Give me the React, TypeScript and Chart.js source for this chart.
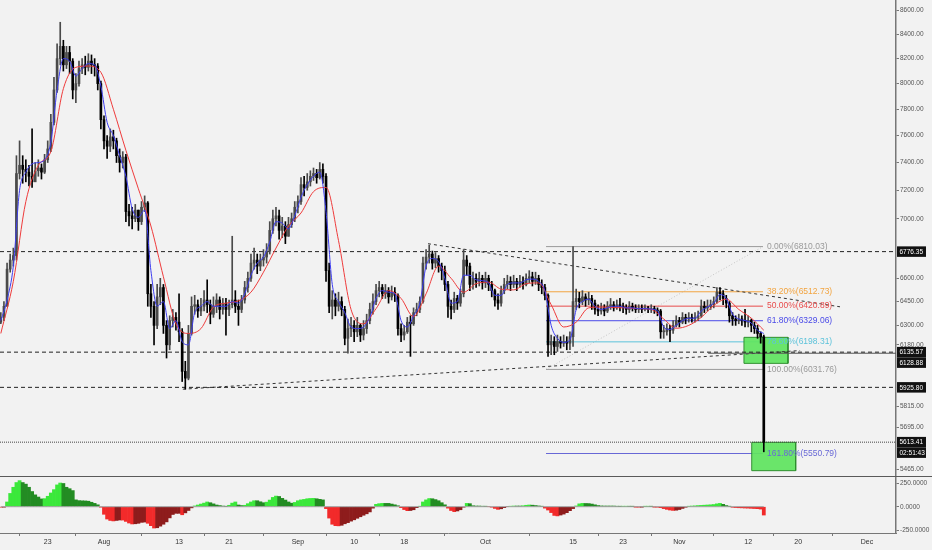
import React, { useEffect, useRef } from 'react';
import { Chart, registerables } from 'chart.js';

Chart.register(...registerables);

// ---------- time grid (days since 1 Jul 2018) ----------
const candleStartDay = 14.5; // 15 Jul 2018 12:00
const candleStepDays = 0.5; // 12h candles
const firstOpen = 6320;

const candleClose = [
  6350, 6420, 6660, 6720, 6750, 7320, 7380, 7350, 7330, 7300,
  7260, 7340, 7360, 7330, 7420, 7500, 7700, 7950, 8200, 8300,
  8150, 8250, 8180, 7950, 8000, 8120, 8150, 8130, 8180, 8150,
  8140, 8000, 7720, 7560, 7520, 7590, 7560, 7450, 7400, 7440,
  7050, 7020, 7000, 7060, 6980, 7080, 7110, 6500, 6420, 6300,
  6480, 6540, 6300, 6180, 6330, 6350, 6320, 6260, 6020, 5980,
  6250, 6420, 6430, 6390, 6420, 6460, 6430, 6370, 6420, 6460,
  6400, 6440, 6400, 6430, 6460, 6420, 6400, 6460, 6540, 6600,
  6700, 6720, 6680, 6720, 6740, 6780, 6920, 7000, 7020, 6920,
  6950, 6880, 6960, 7000, 7080, 7120, 7240, 7220, 7260, 7300,
  7320, 7290, 7350, 7300, 6650, 6420, 6460, 6420, 6450, 6400,
  6220, 6280, 6300, 6260, 6300, 6240, 6280, 6330, 6400, 6450,
  6520, 6540, 6500, 6520, 6480, 6510, 6490, 6280, 6240, 6260,
  6320, 6310, 6380, 6400, 6450, 6700, 6740, 6760, 6700, 6730,
  6680, 6650, 6560, 6420, 6400, 6470, 6440, 6500, 6720, 6680,
  6560, 6600, 6580, 6600, 6570, 6600, 6560, 6520, 6460, 6440,
  6520, 6560, 6580, 6560, 6580, 6560, 6580, 6560, 6600, 6610,
  6580, 6600, 6560, 6540, 6490, 6180, 6200, 6170, 6200, 6190,
  6200, 6190, 6230, 6450, 6470, 6450, 6480, 6460, 6470, 6440,
  6400, 6390, 6410, 6390, 6420, 6430, 6410, 6430, 6420, 6410,
  6400, 6420, 6410, 6400, 6410, 6400, 6410, 6400, 6405, 6395,
  6390, 6260, 6260, 6280, 6270, 6300, 6330, 6320, 6350, 6340,
  6350, 6340, 6350, 6360, 6420, 6410, 6420, 6430, 6450, 6510,
  6500, 6470, 6440, 6360, 6340, 6330, 6340, 6330, 6320, 6330,
  6300, 6280, 6250, 6230, 5613.41,
];

const candleHigh = [
  6380, 6450, 6700, 6760, 6800, 7450, 7560, 7450, 7420, 7380,
  7650, 7400, 7420, 7390, 7460, 7560, 7760, 8050, 8320, 8500,
  8350, 8300, 8300, 8200, 8080, 8180, 8200, 8220, 8240, 8230,
  8200, 8160, 8020, 7750, 7600, 7650, 7640, 7580, 7500, 7480,
  7460, 7100, 7080, 7100, 7060, 7120, 7160, 7120, 6560, 6450,
  6560, 6600, 6560, 6330, 6360, 6400, 6380, 6500, 6280, 6080,
  6300, 6480, 6490, 6460, 6470, 6520, 6590, 6460, 6480, 6500,
  6480, 6470, 6470, 6460, 6880, 6520, 6460, 6490, 6580, 6640,
  6760, 6800, 6760, 6760, 6790, 6830, 6980, 7060, 7080, 7060,
  7010, 6980, 7010, 7040, 7120, 7160, 7290, 7300, 7320, 7340,
  7360, 7350, 7400, 7390, 7320, 6700, 6520, 6500, 6510, 6480,
  6420, 6340, 6350, 6330, 6350, 6310, 6330, 6370, 6440, 6500,
  6560, 6580, 6560, 6560, 6540, 6550, 6540, 6500, 6310, 6300,
  6350, 6360, 6410, 6440, 6480, 6740, 6790, 6820, 6780, 6770,
  6750, 6700, 6680, 6580, 6460, 6510, 6490, 6530, 6790, 6750,
  6700, 6640, 6630, 6640, 6620, 6640, 6620, 6580, 6530, 6500,
  6550, 6600, 6620, 6610, 6620, 6600, 6620, 6610, 6630, 6650,
  6640, 6640, 6620, 6590, 6560, 6500, 6240, 6230, 6240, 6230,
  6240, 6230, 6260, 6810, 6530, 6510, 6520, 6500, 6510, 6490,
  6460, 6430, 6440, 6430, 6450, 6470, 6450, 6460, 6470, 6440,
  6430, 6450, 6440, 6430, 6430, 6430, 6430, 6420, 6430, 6420,
  6410, 6400, 6300, 6310, 6300, 6330, 6360, 6350, 6380, 6370,
  6380, 6370, 6380, 6390, 6460, 6450, 6460, 6460, 6480, 6540,
  6540, 6520, 6490, 6450, 6380, 6360, 6370, 6360, 6400, 6360,
  6340, 6320, 6300, 6260, 6240,
];

const candleLow = [
  6310, 6330, 6420, 6640, 6680, 6720, 7280, 7250, 7260, 7230,
  7220, 7280, 7300, 7280, 7320, 7400, 7480, 7680, 7930, 8150,
  8100, 8120, 8080, 7880, 7850, 7980, 8080, 8070, 8100, 8080,
  8060, 7950, 7650, 7500, 7430, 7480, 7500, 7400, 7330, 7360,
  6980, 6950, 6930, 6980, 6920, 6960, 7050, 6420, 6350, 6180,
  6280, 6430, 6250, 6100, 6150, 6290, 6270, 6200, 5960, 5915,
  5970, 6240, 6370, 6350, 6360, 6390, 6380, 6310, 6350, 6380,
  6340, 6370, 6240, 6360, 6410, 6380, 6300, 6380, 6440, 6510,
  6580, 6660, 6630, 6650, 6680, 6700, 6760, 6900, 6950, 6860,
  6870, 6830, 6880, 6940, 6980, 7040, 7100, 7160, 7200, 7230,
  7270, 7250, 7280, 7250, 6580, 6380, 6340, 6360, 6390, 6360,
  6180, 6130, 6230, 6200, 6230, 6200, 6210, 6250, 6310, 6370,
  6430, 6480, 6470, 6470, 6440, 6460, 6450, 6240, 6200, 6210,
  6250, 6110, 6300, 6360, 6380, 6440, 6660, 6700, 6660, 6670,
  6640, 6590, 6520, 6350, 6340, 6380, 6400, 6420, 6480, 6620,
  6520, 6530, 6540, 6550, 6530, 6540, 6520, 6480, 6420, 6400,
  6420, 6500, 6530, 6520, 6540, 6520, 6540, 6530, 6550, 6570,
  6550, 6560, 6520, 6500, 6460, 6110, 6120, 6120, 6140, 6160,
  6170, 6150, 6150, 6170, 6400, 6410, 6430, 6420, 6430, 6400,
  6370, 6360, 6370, 6360, 6380, 6400, 6390, 6400, 6390, 6380,
  6370, 6380, 6390, 6380, 6380, 6380, 6390, 6380, 6380, 6375,
  6360, 6220, 6220, 6240, 6200, 6250, 6290, 6290, 6310, 6310,
  6320, 6320, 6320, 6330, 6350, 6380, 6390, 6400, 6410, 6440,
  6460, 6430, 6410, 6320, 6300, 6300, 6310, 6300, 6290, 6290,
  6260, 6250, 6220, 6190, 5560,
];

// fast moving average (blue), one value per day from candleStartDay
const maFastStepDays = 1;
const maFast = [
  6330, 6460, 6680, 7200, 7330, 7390, 7400, 7420, 7550, 7950,
  8200, 8180, 8060, 8120, 8160, 8150, 7980, 7700, 7600, 7450,
  7300, 7070, 7010, 7060, 6650, 6420, 6450, 6280, 6330, 6200,
  6180, 6380, 6420, 6450, 6420, 6420, 6420, 6450, 6440, 6500,
  6620, 6700, 6740, 6840, 6980, 6970, 6930, 7020, 7150, 7240,
  7300, 7330, 7050, 6560, 6450, 6380, 6290, 6280, 6290, 6350,
  6470, 6520, 6510, 6500, 6330, 6290, 6360, 6440, 6680, 6730,
  6710, 6600, 6440, 6450, 6620, 6620, 6590, 6585, 6570, 6490,
  6490, 6560, 6570, 6570, 6590, 6595, 6580, 6520, 6300, 6220,
  6195, 6210, 6400, 6450, 6465, 6420, 6400, 6410, 6420, 6420,
  6410, 6410, 6405, 6405, 6402, 6392, 6290, 6275, 6300, 6330,
  6345, 6345, 6390, 6415, 6440, 6495, 6470, 6370, 6340, 6330,
  6315, 6270, 6250,
];

// slow moving average (red), one value every two days from candleStartDay
const maSlowStepDays = 2;
const maSlow = [
  6250, 6580, 7120, 7380, 7480, 7960, 8130, 8140, 8090, 7800,
  7490, 7210, 6950, 6610, 6310, 6250, 6280, 6415, 6440, 6455,
  6510, 6640, 6800, 6950, 7040, 7190, 7220, 6850, 6400, 6310,
  6405, 6520, 6470, 6355, 6500, 6680, 6600, 6510, 6565, 6575,
  6530, 6525, 6565, 6570, 6430, 6290, 6320, 6410, 6415, 6412,
  6410, 6405, 6400, 6340, 6282, 6300, 6350, 6425, 6465, 6400,
  6345, 6270,
];

// momentum oscillator, one value per candle
const oscValues = [
  -5, -3, 50, 140, 205, 255, 275, 255, 238, 205,
  160, 125, 102, 82, 85, 110, 145, 180, 230, 250,
  245, 205, 190, 170, 72, 64, 62, 61, 58, 47,
  35, 20, -3, -80, -130, -145, -150, -145, -140, -141,
  -155, -172, -182, -180, -175, -165, -162, -175, -200, -225,
  -222, -205, -185, -160, -118, -82, -70, -70, -85, -65,
  -40, -12, 8, 18, 28, 38, 50, 42, 30, 18,
  12, 7, 2, 15, 38, 50, 18, 12, 15, 32,
  50, 63, 63, 52, 42, 48, 70, 98, 112, 108,
  88, 70, 50, 37, 45, 63, 72, 77, 84, 87,
  88, 84, 78, 72, -20, -120, -185, -200, -202, -196,
  -180, -168, -152, -138, -122, -106, -90, -75, -55, -15,
  25, 32, 35, 35, 35, 28, 20, 10, -10, -30,
  -42, -40, -32, -10, 2, 50, 72, 86, 84, 75,
  63, 42, 20, -15, -40, -52, -45, -32, -5, 35,
  32, 10, 7, 7, 5, 2, 0, -5, -18, -28,
  -22, -10, 0, 5, 7, 7, 7, 10, 15, 18,
  16, 12, 8, 3, -15, -35, -62, -92, -97, -88,
  -78, -63, -42, -20, 8, 30, 35, 34, 33, 28,
  20, 12, 8, 7, 7, 7, 7, 4, 1, 2,
  3, 2, 1, -1, -2, -1, 1, 2, 1, -1,
  -3, -10, -20, -28, -35, -39, -37, -30, -18, -6,
  3, 7, 9, 12, 14, 16, 18, 20, 23, 30,
  35, 25, 12, 2, -6, -9, -11, -12, -14, -15,
  -17, -19, -21, -25, -88,
];

// axes
const xMinDay = 14.37;
const xMaxDay = 157.64;
const priceMin = 5428.8;
const priceMax = 8689.1;
const oscMin = -277.3;
const oscMax = 313.3;
const xTickDays = [22, 31, 43, 51, 62, 71, 79, 92, 106, 114, 123, 134, 142, 153];
const xTickLabels = ['23', 'Aug', '13', '21', 'Sep', '10', '18', 'Oct', '15', '23', 'Nov', '12', '20', 'Dec'];
const priceTicks = [8600, 8400, 8200, 8000, 7800, 7600, 7400, 7200, 7000, 6600, 6450, 6300, 6180, 5815, 5695, 5465];
const oscTicks = [250, 0, -250];

// fibonacci retracement
const fibStartDay = 101.68;
const fibEndDay = 136.37;
const fibLevels = ['0.00%', '38.20%', '50.00%', '61.80%', '78.60%', '100.00%', '161.80%'];
const fibPrices = [6810.03, 6512.73, 6420.89, 6329.06, 6198.31, 6031.76, 5550.79];
const fibColors = ['#9a9a9a', '#f2a440', '#e84c4c', '#4a4ae8', '#5cc2da', '#9a9a9a', '#6868d6'];

// horizontal levels
const dashedLevelPrices = [6776.35, 6135.57, 5925.8];
const lastPrice = 5613.41;
const countdownText = '02:51:43';
const shortLevelPrice = 6128.88;
const shortLevelStartDay = 127.6;

// trend lines
const supportDays = [43.6, 142.3];
const supportPrices = [5915, 6145];
const resistanceDays = [82.81, 148.69];
const resistancePrices = [6829.6, 6416.7];

// target boxes
const boxStartDays = [133.33, 134.57];
const boxEndDays = [140.37, 141.6];
const boxTopPrices = [6226, 5612.6];
const boxBottomPrices = [6068, 5457.4];

// highlighted axis labels
const badgePrices = [6776.35, 6135.57, 6128.88, 5925.8, lastPrice, lastPrice];
const badgeTexts = ['6776.35', '6135.57', '6128.88', '5925.80', '5613.41', countdownText];

const BG = '#f2f2f2';
const FONT = '"Liberation Sans", Arial, sans-serif';
const UP = '#4a4a4a';
const DOWN = '#000000';

const candleDay = (i: number) => candleStartDay + i * candleStepDays;

export default function App() {
  const mainRef = useRef<HTMLCanvasElement>(null);
  const oscRef = useRef<HTMLCanvasElement>(null);

  useEffect(() => {
    document.body.style.margin = '0';
    document.body.style.background = BG;

    const opens = candleClose.map((c, i) => (i === 0 ? firstOpen : candleClose[i - 1]));
    const isUp = candleClose.map((c, i) => c >= opens[i]);
    const lastDay = candleDay(candleClose.length - 1);

    const seg = (x1: number, y1: number, x2: number, y2: number) => [
      { x: x1, y: y1 },
      { x: x2, y: y2 },
    ];
    const lineDs = (data: any[], color: string, dash: number[], order: number, width = 1) => ({
      type: 'line' as const,
      data,
      borderColor: color,
      borderWidth: width,
      borderDash: dash,
      pointRadius: 0,
      fill: false,
      order,
    });

    const datasets: any[] = [];
    // MAs
    datasets.push({
      ...lineDs(maFast.map((v, k) => ({ x: candleStartDay + k * maFastStepDays, y: v })), '#3d3df0', [], 0),
      cubicInterpolationMode: 'monotone',
    });
    datasets.push({
      ...lineDs(maSlow.map((v, k) => ({ x: candleStartDay + k * maSlowStepDays, y: v })), '#ee3b3b', [], 0),
      cubicInterpolationMode: 'monotone',
    });
    // candles
    datasets.push({
      type: 'bar',
      data: candleClose.map((c, i) => ({ x: candleDay(i), y: [opens[i], c] })),
      backgroundColor: isUp.map((u) => (u ? UP : DOWN)),
      barThickness: 2,
      minBarLength: 1,
      grouped: false,
      order: 1,
    });
    datasets.push({
      type: 'bar',
      data: candleClose.map((c, i) => ({ x: candleDay(i), y: [candleLow[i], candleHigh[i]] })),
      backgroundColor: isUp.map((u) => (u ? UP : DOWN)),
      barThickness: 1,
      grouped: false,
      order: 2,
    });
    // horizontal levels (above boxes)
    dashedLevelPrices.forEach((p) => datasets.push(lineDs(seg(xMinDay, p, xMaxDay, p), '#222', [4, 3], 3)));
    datasets.push(lineDs(seg(xMinDay, lastPrice, xMaxDay, lastPrice), '#444', [1, 1], 3));
    datasets.push(lineDs(seg(shortLevelStartDay, shortLevelPrice, xMaxDay, shortLevelPrice), '#555', [], 3));
    // trend lines
    datasets.push(lineDs(seg(supportDays[0], supportPrices[0], supportDays[1], supportPrices[1]), '#333', [3, 3], 3));
    datasets.push(
      lineDs(seg(resistanceDays[0], resistancePrices[0], resistanceDays[1], resistancePrices[1]), '#333', [3, 3], 3)
    );
    // boxes
    boxStartDays.forEach((s, b) => {
      datasets.push({
        type: 'line',
        data: seg(s, boxTopPrices[b], boxEndDays[b], boxTopPrices[b]),
        borderWidth: 0,
        borderColor: 'rgba(0,0,0,0)',
        pointRadius: 0,
        fill: { target: { value: boxBottomPrices[b] } },
        backgroundColor: 'rgba(96,228,96,0.93)',
        order: 5,
      });
      datasets.push(
        lineDs(
          [
            { x: s, y: boxTopPrices[b] },
            { x: boxEndDays[b], y: boxTopPrices[b] },
            { x: boxEndDays[b], y: boxBottomPrices[b] },
            { x: s, y: boxBottomPrices[b] },
            { x: s, y: boxTopPrices[b] },
          ],
          '#2f8f2f',
          [],
          4
        )
      );
    });
    // fib levels (below boxes)
    fibPrices.forEach((p, i) => {
      datasets.push(lineDs(seg(fibStartDay, p, fibEndDay, p), fibColors[i], [], 7));
    });
    datasets.push(lineDs(seg(fibStartDay, fibPrices[5], fibEndDay, fibPrices[0]), '#c4c4c4', [1, 2], 8));

    const overlay = {
      id: 'overlay',
      afterDatasetsDraw(chart: any) {
        const { ctx, scales } = chart;
        const xs = scales.x;
        const ys = scales.y;
        ctx.save();
        ctx.font = `8.5px ${FONT}`;
        ctx.textBaseline = 'middle';
        ctx.textAlign = 'left';
        fibPrices.forEach((p, i) => {
          ctx.fillStyle = fibColors[i];
          ctx.fillText(`${fibLevels[i]}(${p.toFixed(2)})`, xs.getPixelForValue(fibEndDay) + 4, ys.getPixelForValue(p));
        });
        ctx.restore();
      },
      afterDraw(chart: any) {
        const { ctx, chartArea, scales, width } = chart;
        const ys = scales.y;
        ctx.save();
        ctx.fillStyle = '#5a5a5a';
        ctx.fillRect(0, chartArea.bottom, width, 1.5);
        const h = 10.5;
        let prevBottom = -Infinity;
        const items = badgePrices
          .map((p, i) => ({ y: ys.getPixelForValue(p), t: badgeTexts[i], i }))
          .sort((a, b) => a.y - b.y || a.i - b.i);
        ctx.font = `6.5px ${FONT}`;
        ctx.textBaseline = 'middle';
        ctx.textAlign = 'left';
        items.forEach((it) => {
          let top = it.y - h / 2;
          if (top < prevBottom) top = prevBottom;
          prevBottom = top + h;
          ctx.fillStyle = '#111';
          ctx.fillRect(chartArea.right + 1, top, 29, h);
          ctx.fillStyle = '#fff';
          ctx.fillText(it.t, chartArea.right + 3.5, top + h / 2 + 0.5);
        });
        ctx.restore();
      },
    };

    const tickFont = { family: FONT, size: 6.5 };

    const main = new Chart(mainRef.current as HTMLCanvasElement, {
      type: 'line',
      data: { datasets },
      plugins: [overlay],
      options: {
        responsive: false,
        maintainAspectRatio: false,
        animation: false,
        devicePixelRatio: 1,
        events: [],
        layout: { padding: 0 },
        plugins: { legend: { display: false }, tooltip: { enabled: false } },
        scales: {
          x: {
            type: 'linear',
            min: xMinDay,
            max: xMaxDay,
            offset: false,
            ticks: { display: false },
            grid: { display: false, drawTicks: false },
            border: { display: false },
            afterFit: (s: any) => {
              s.height = 1;
              s.paddingLeft = 0;
              s.paddingRight = 0;
            },
          },
          y: {
            type: 'logarithmic',
            position: 'right',
            min: priceMin,
            max: priceMax,
            afterBuildTicks: (s: any) => {
              s.ticks = priceTicks.map((v) => ({ value: v }));
            },
            ticks: {
              callback: (v: any) => Number(v).toFixed(2),
              font: tickFont,
              color: '#555',
              padding: 1,
              autoSkip: false,
            },
            grid: { display: true, drawOnChartArea: false, drawTicks: true, tickLength: 3, color: '#777' },
            border: { display: true, color: '#777', width: 1.5 },
            afterFit: (s: any) => {
              s.width = 36;
              s.paddingTop = 0;
              s.paddingBottom = 0;
            },
          },
        },
      } as any,
    });

    const oscColors = oscValues.map((v, i) => {
      const prev = i === 0 ? 0 : oscValues[i - 1];
      if (v > 0) return v > prev ? '#3be83b' : '#238c23';
      return v < prev ? '#f22a2a' : '#8e1c1c';
    });

    const osc = new Chart(oscRef.current as HTMLCanvasElement, {
      type: 'line',
      data: {
        datasets: [
          {
            type: 'line',
            data: [
              { x: candleDay(0), y: 0 },
              { x: lastDay, y: 0 },
            ],
            borderColor: '#a0a0a0',
            borderWidth: 1,
            pointRadius: 0,
            order: 0,
          },
          {
            type: 'bar',
            data: oscValues.map((v, i) => ({ x: candleDay(i), y: v })),
            backgroundColor: oscColors,
            barPercentage: 1,
            categoryPercentage: 1,
            order: 1,
          },
        ] as any,
      },
      options: {
        responsive: false,
        maintainAspectRatio: false,
        animation: false,
        devicePixelRatio: 1,
        events: [],
        layout: { padding: 0 },
        plugins: { legend: { display: false }, tooltip: { enabled: false } },
        scales: {
          x: {
            type: 'linear',
            min: xMinDay,
            max: xMaxDay,
            offset: false,
            afterBuildTicks: (s: any) => {
              s.ticks = xTickDays.map((v) => ({ value: v }));
            },
            ticks: {
              callback: (_v: any, i: number) => xTickLabels[i],
              font: { family: FONT, size: 7 },
              color: '#333',
              padding: 2,
              autoSkip: false,
              maxRotation: 0,
              minRotation: 0,
            },
            grid: { display: true, drawOnChartArea: false, drawTicks: true, tickLength: 3, color: '#777' },
            border: { display: true, color: '#777', width: 1 },
            afterFit: (s: any) => {
              s.height = 17;
              s.paddingLeft = 0;
              s.paddingRight = 0;
            },
          },
          y: {
            type: 'linear',
            position: 'right',
            min: oscMin,
            max: oscMax,
            afterBuildTicks: (s: any) => {
              s.ticks = oscTicks.map((v) => ({ value: v }));
            },
            ticks: {
              callback: (v: any) => Number(v).toFixed(4),
              font: tickFont,
              color: '#555',
              padding: 1,
              autoSkip: false,
            },
            grid: { display: true, drawOnChartArea: false, drawTicks: true, tickLength: 3, color: '#777' },
            border: { display: true, color: '#777', width: 1.5 },
            afterFit: (s: any) => {
              s.width = 36;
              s.paddingTop = 0;
              s.paddingBottom = 0;
            },
          },
        },
      } as any,
    });

    return () => {
      main.destroy();
      osc.destroy();
    };
  }, []);

  return (
    <div style={{ position: 'fixed', left: 0, top: 0, width: 932, height: 550, background: BG }}>
      <canvas
        ref={mainRef}
        width={932}
        height={477}
        style={{ position: 'absolute', left: 0, top: 0, width: 932, height: 477 }}
      />
      <canvas
        ref={oscRef}
        width={932}
        height={73}
        style={{ position: 'absolute', left: 0, top: 477, width: 932, height: 73 }}
      />
    </div>
  );
}
